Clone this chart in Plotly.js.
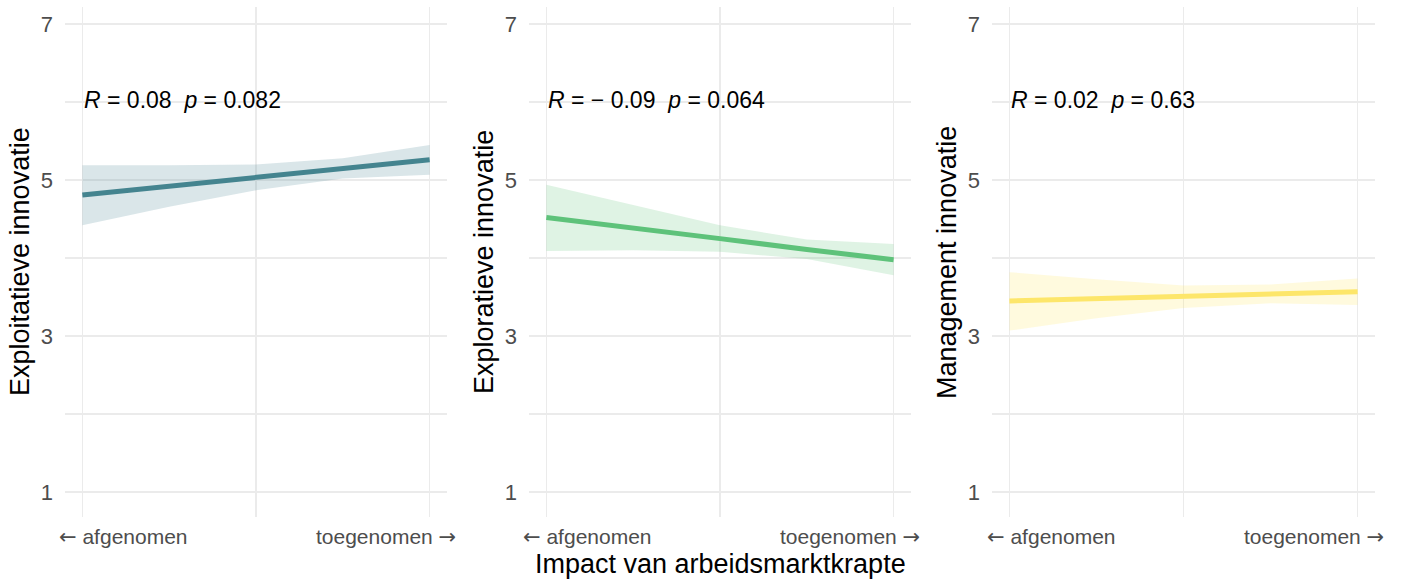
<!DOCTYPE html>
<html>
<head>
<meta charset="utf-8">
<script src="https://cdn.plot.ly/plotly-3.0.1.min.js"></script>
<style>html,body{margin:0;padding:0;background:#fff;}#chart{width:1401px;height:580px;}</style>
</head>
<body>
<div id="chart"></div>
<script>
// x positions (0 = afgenomen, 1 = toegenomen)
const xPoints = [0, 0.25, 0.5, 0.75, 1];

// Panel 1: Exploitatieve innovatie
const fit1   = [4.81, 4.92, 5.03, 5.15, 5.26];
const upper1 = [5.19, 5.19, 5.20, 5.28, 5.45];
const lower1 = [4.42, 4.66, 4.87, 5.02, 5.07];

// Panel 2: Exploratieve innovatie
const fit2   = [4.52, 4.39, 4.25, 4.11, 3.98];
const upper2 = [4.94, 4.68, 4.42, 4.24, 4.18];
const lower2 = [4.09, 4.10, 4.08, 3.99, 3.78];

// Panel 3: Management innovatie
const fit3   = [3.45, 3.48, 3.51, 3.54, 3.57];
const upper3 = [3.82, 3.73, 3.65, 3.66, 3.74];
const lower3 = [3.07, 3.23, 3.36, 3.42, 3.40];

const yTitles = ["Exploitatieve innovatie", "Exploratieve innovatie", "Management innovatie"];
const statLabels = [
  "<i>R</i> = 0.08 &nbsp;<i>p</i> = 0.082",
  "<i>R</i> = \u2212 0.09 &nbsp;<i>p</i> = 0.064",
  "<i>R</i> = 0.02 &nbsp;<i>p</i> = 0.63"
];
const xTickLabels = ["<span style='font-family:DejaVu Sans'>\u2190</span> afgenomen",
                     "toegenomen <span style='font-family:DejaVu Sans'>\u2192</span>"];
const xTitle = "Impact van arbeidsmarktkrapte";
const yTickVals = [1, 2, 3, 4, 5, 6, 7];
const yTickText = ["1", "", "3", "", "5", "", "7"];

const lineColors = ["#44848f", "#5ec27a", "#fde66a"];
const fillColors = ["rgba(68,132,143,0.2)", "rgba(94,194,122,0.2)", "rgba(253,230,106,0.22)"];

const fits = [fit1, fit2, fit3];
const uppers = [upper1, upper2, upper3];
const lowers = [lower1, lower2, lower3];

const W = 1401;
const PH = 510; // plot area height in px
const domains = [[65 / W, 447 / W], [529 / W, 911 / W], [992 / W, 1375 / W]];
const tickPx = [[57, 458], [521, 922], [985, 1386]];

const traces = [];
const annotations = [];
const layout = {
  width: 1401, height: 580,
  margin: {l: 0, r: 0, t: 7, b: 63},
  paper_bgcolor: "#fff", plot_bgcolor: "#fff",
  showlegend: false,
  font: {family: "Liberation Sans, Arial, sans-serif", color: "#000"},
  annotations: annotations
};

for (let i = 0; i < 3; i++) {
  const sfx = i === 0 ? "" : String(i + 1);
  const xa = "x" + sfx, ya = "y" + sfx;
  const xs = xPoints.slice();
  traces.push({
    type: "scatter", mode: "lines", xaxis: xa, yaxis: ya,
    x: xs.concat(xs.slice().reverse()),
    y: uppers[i].concat(lowers[i].slice().reverse()),
    fill: "toself", fillcolor: fillColors[i], line: {width: 0}, hoverinfo: "skip"
  });
  traces.push({
    type: "scatter", mode: "lines", xaxis: xa, yaxis: ya,
    x: xs, y: fits[i], line: {color: lineColors[i], width: 5}
  });
  layout["xaxis" + sfx] = {
    domain: domains[i], anchor: ya, range: [-0.05, 1.05],
    tickvals: [0, 0.5, 1], showticklabels: false,
    showgrid: true, gridcolor: "#ebebeb", gridwidth: 1.5,
    zeroline: false, showline: false, ticks: "", fixedrange: true
  };
  layout["yaxis" + sfx] = {
    domain: [0, 1], anchor: xa, range: [0.68, 7.22],
    tickvals: yTickVals, ticktext: yTickText,
    tickfont: {size: 22, color: "#4d4d4d"},
    ticks: "", ticklabelstandoff: 11,
    showgrid: true, gridcolor: "#ebebeb", gridwidth: 1.5,
    zeroline: false, showline: false, fixedrange: true
  };
  // x tick labels
  annotations.push({
    xref: "paper", yref: "paper", x: tickPx[i][0] / W, y: -20 / PH, xanchor: "left", yanchor: "middle",
    text: xTickLabels[0], showarrow: false, font: {size: 21, color: "#4d4d4d"}
  });
  annotations.push({
    xref: "paper", yref: "paper", x: tickPx[i][1] / W, y: -20 / PH, xanchor: "right", yanchor: "middle",
    text: xTickLabels[1], showarrow: false, font: {size: 21, color: "#4d4d4d"}
  });
  // stat label
  annotations.push({
    xref: xa, yref: ya, x: 0, y: 6.03, xanchor: "left", yanchor: "middle",
    text: statLabels[i], showarrow: false, font: {size: 23, color: "#000"}
  });
  // y title
  annotations.push({
    xref: "paper", yref: "paper", x: (domains[i][0] * W - 45) / W, y: 0.5,
    xanchor: "center", yanchor: "middle", textangle: -90,
    text: yTitles[i], showarrow: false, font: {size: 27, color: "#000"}
  });
}
// x title
annotations.push({
  xref: "paper", yref: "paper", x: 720 / W, y: -47 / PH,
  xanchor: "center", yanchor: "middle",
  text: xTitle, showarrow: false, font: {size: 27, color: "#000"}
});

Plotly.newPlot("chart", traces, layout, {displayModeBar: false, staticPlot: true});
</script>
</body>
</html>
